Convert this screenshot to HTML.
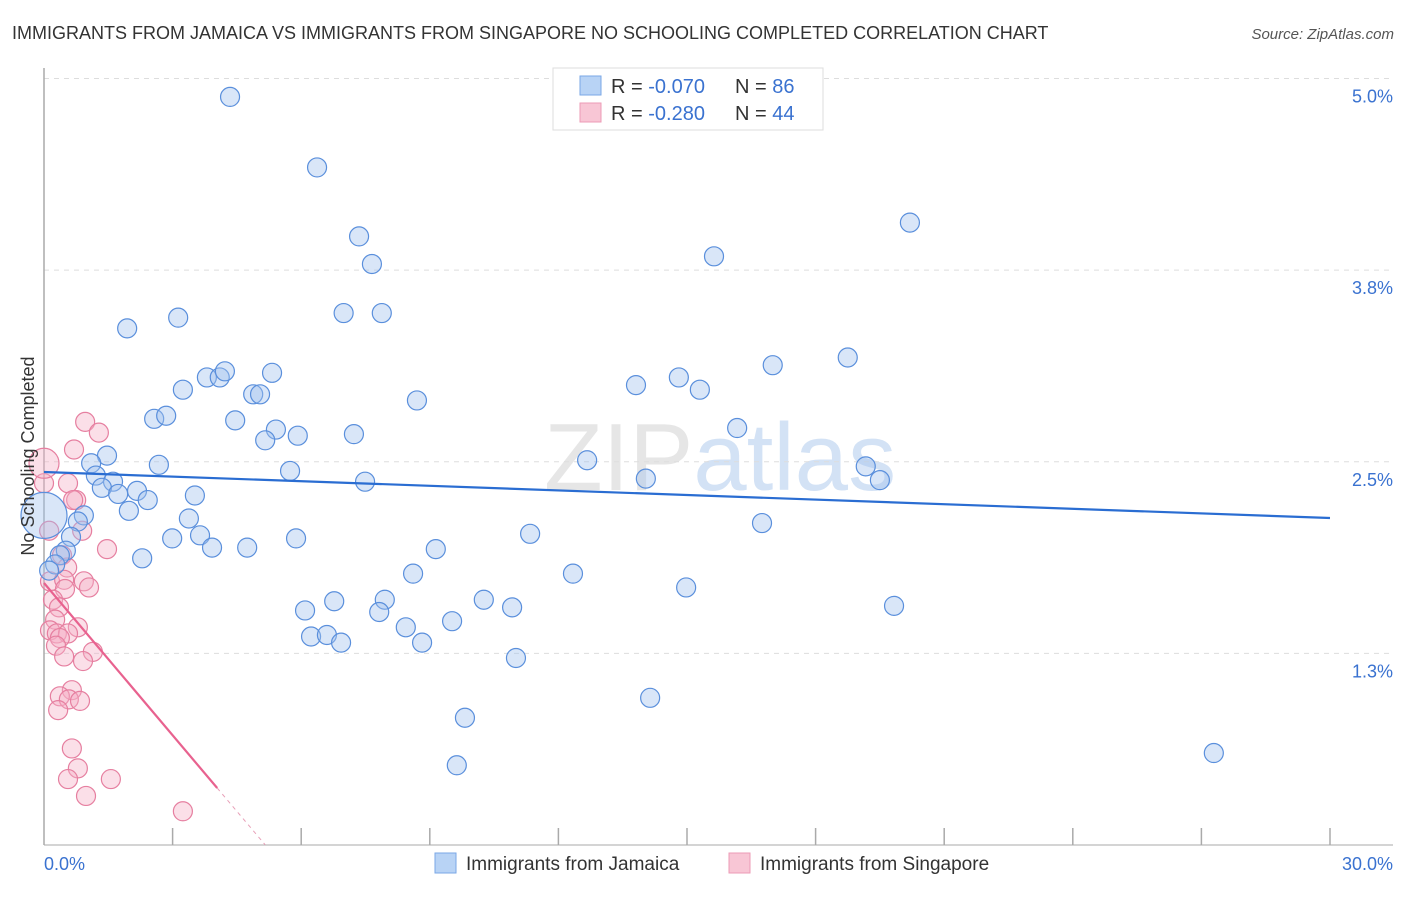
<!DOCTYPE html>
<html><head><meta charset="utf-8"><style>
body{margin:0;background:#fff;font-family:"Liberation Sans",sans-serif;}
svg text{font-family:"Liberation Sans",sans-serif;}
</style></head><body>
<svg id="chart" width="1406" height="892" viewBox="0 0 1406 892" xmlns="http://www.w3.org/2000/svg">
<text x="12" y="39" font-size="18" fill="#333">IMMIGRANTS FROM JAMAICA VS IMMIGRANTS FROM SINGAPORE NO SCHOOLING COMPLETED CORRELATION CHART</text>
<text x="1394" y="39" font-size="15" fill="#555" text-anchor="end" font-style="italic">Source: ZipAtlas.com</text>
<text x="720" y="490" font-size="96" fill="#e6e6e6" text-anchor="middle" font-family="Liberation Serif">ZIP<tspan fill="#d3e2f5" font-family="Liberation Sans">atlas</tspan></text>
<g id="grid"></g>
<g id="axes"></g>
<g id="pts"></g>
<g id="trends"></g>
<text transform="translate(34,456) rotate(-90)" font-size="18" fill="#333" text-anchor="middle">No Schooling Completed</text>
<g>
<rect x="553" y="68" width="270" height="62" fill="#fff" stroke="#ddd"/>
<rect x="580" y="76" width="21" height="19" fill="#b8d3f5" stroke="#7aa7e6"/>
<rect x="580" y="103" width="21" height="19" fill="#f8c6d5" stroke="#ec9bb6"/>
<text x="611" y="93" font-size="20" fill="#333">R = <tspan fill="#3a72d0">-0.070</tspan></text>
<text x="735" y="93" font-size="20" fill="#333">N = <tspan fill="#3a72d0">86</tspan></text>
<text x="611" y="120" font-size="20" fill="#333">R = <tspan fill="#3a72d0">-0.280</tspan></text>
<text x="735" y="120" font-size="20" fill="#333">N = <tspan fill="#3a72d0">44</tspan></text>
</g>
<g>
<rect x="435" y="853" width="21" height="20" fill="#b8d3f5" stroke="#7aa7e6"/>
<text x="466" y="870" font-size="19" fill="#333">Immigrants from Jamaica</text>
<rect x="729" y="853" width="21" height="20" fill="#f8c6d5" stroke="#ec9bb6"/>
<text x="760" y="870" font-size="19" fill="#333">Immigrants from Singapore</text>
</g>
</svg>
<script>
const yTicks=[5.0,3.75,2.5,1.25];
const yTickLabels=["5.0%","3.8%","2.5%","1.3%"];
const xTickCount=10;
const jamX=[4.34,6.37,7.35,7.65,20.2,15.63,1.94,3.13,6.99,7.88,18.75,17.0,3.24,3.80,4.10,4.22,5.32,4.88,5.04,13.81,14.81,15.30,8.70,2.57,2.85,4.46,5.41,5.16,5.92,7.23,16.17,1.47,1.10,2.68,1.21,5.74,12.67,19.17,19.50,14.04,7.49,1.61,1.35,1.73,2.17,2.42,3.52,1.98,0.93,3.38,0.79,16.75,11.34,0.63,2.99,3.64,3.92,4.74,5.88,9.14,0.51,0.37,2.29,0.26,0.12,8.61,12.34,14.98,6.77,7.95,10.26,6.09,7.82,10.92,19.83,9.52,8.44,6.23,6.60,6.93,8.82,11.01,14.14,9.82,9.63,27.29];
const jamY=[4.88,4.42,3.97,3.79,4.06,3.84,3.37,3.44,3.47,3.47,3.18,3.13,2.97,3.05,3.05,3.09,3.08,2.94,2.94,3.0,3.05,2.97,2.90,2.78,2.80,2.77,2.71,2.64,2.67,2.68,2.72,2.54,2.49,2.48,2.41,2.44,2.51,2.47,2.38,2.39,2.37,2.37,2.33,2.29,2.31,2.25,2.28,2.18,2.15,2.13,2.11,2.10,2.03,2.01,2.00,2.02,1.94,1.94,2.00,1.93,1.92,1.89,1.87,1.83,1.79,1.77,1.77,1.68,1.59,1.60,1.60,1.53,1.52,1.55,1.56,1.46,1.42,1.36,1.37,1.32,1.32,1.22,0.96,0.83,0.52,0.60];
const sinX=[0.96,1.28,0.70,0.56,0.75,0.68,0.89,0.12,1.47,0.42,0.54,0.14,0.47,0.93,1.05,0.49,0.21,0.35,0.26,0.79,0.14,0.30,0.56,0.37,0.28,1.14,0.47,0.91,0.65,0.37,0.58,0.84,0.33,0.65,0.79,0.56,1.56,0.98,3.24,0,0];
const sinY=[2.76,2.69,2.58,2.36,2.25,2.25,2.05,2.05,1.93,1.89,1.81,1.72,1.73,1.72,1.68,1.67,1.60,1.55,1.47,1.42,1.40,1.38,1.38,1.35,1.30,1.26,1.23,1.20,1.01,0.97,0.95,0.94,0.88,0.63,0.50,0.43,0.43,0.32,0.22,2.36,2.49];
const bigJam={x:0,y:2.15,r:23};
const jamTrend=[2.433,2.133];
const sinTrend={y0:1.709,slope:-0.331,solidEnd:4.04,dashEnd:5.16};
const NS="http://www.w3.org/2000/svg";
const X0=44,X1=1330,Y0=845,PXY=153.3;
const xs=v=>X0+v*(X1-X0)/30;
const ys=v=>Y0-v*PXY;
function mk(t,a,p){const e=document.createElementNS(NS,t);for(const k in a)e.setAttribute(k,a[k]);p.appendChild(e);return e;}
const grid=document.getElementById('grid'),axes=document.getElementById('axes'),pts=document.getElementById('pts'),tr=document.getElementById('trends');
yTicks.forEach((v,i)=>{
 const l=mk('line',{x1:X0,x2:1393,y1:ys(v),y2:ys(v),stroke:'#ddd','stroke-dasharray':'5,5'},grid);
 
 
 const t=mk('text',{x:1393,y:ys(v)+24,'font-size':18,fill:'#3a72d0','text-anchor':'end'},axes);
 t.textContent=yTickLabels[i];
 
 
});
const ya=mk('line',{x1:X0,x2:X0,y1:68,y2:Y0,stroke:'#aaa','stroke-width':1.5},axes);


const xa=mk('line',{x1:X0,x2:1393,y1:Y0,y2:Y0,stroke:'#aaa','stroke-width':1},axes);


for(let i=1;i<=xTickCount;i++){
 const v=i*3;
 const t=mk('line',{x1:xs(v),x2:xs(v),y1:828,y2:Y0,stroke:'#aaa','stroke-width':1.5},axes);
 
 
}
const xl0=mk('text',{x:44,y:870,'font-size':18,fill:'#3a72d0'},axes);xl0.textContent='0.0%';


const xl1=mk('text',{x:1393,y:870,'font-size':18,fill:'#3a72d0','text-anchor':'end'},axes);xl1.textContent='30.0%';


function dot(x,y,r,fill,stroke,name){
 const c=mk('circle',{cx:xs(x),cy:ys(y),r:r,fill:fill,'fill-opacity':0.4,stroke:stroke,'stroke-width':1.2},pts);
 
 
}
sinX.forEach((x,i)=>dot(x,sinY[i],i>=sinX.length-1?15:9.5,'#f5b0c6','#e67fa0','point-singapore'));
dot(bigJam.x,bigJam.y,bigJam.r,'#9fc0ee','#5a8fdc','point-jamaica');
jamX.forEach((x,i)=>dot(x,jamY[i],9.5,'#9fc0ee','#5a8fdc','point-jamaica'));
const jl=mk('line',{x1:xs(0),y1:ys(jamTrend[0]),x2:xs(30),y2:ys(jamTrend[1]),stroke:'#2a6dd2','stroke-width':2.2},tr);


const sy=x=>sinTrend.y0+sinTrend.slope*x;
const sl=mk('line',{x1:xs(0),y1:ys(sy(0)),x2:xs(sinTrend.solidEnd),y2:ys(sy(sinTrend.solidEnd)),stroke:'#e8628f','stroke-width':2.2},tr);


const sd=mk('line',{x1:xs(sinTrend.solidEnd),y1:ys(sy(sinTrend.solidEnd)),x2:xs(sinTrend.dashEnd),y2:ys(sy(sinTrend.dashEnd)),stroke:'#e8a0b8','stroke-width':1,'stroke-dasharray':'4,4'},tr);


</script>
</body></html>
